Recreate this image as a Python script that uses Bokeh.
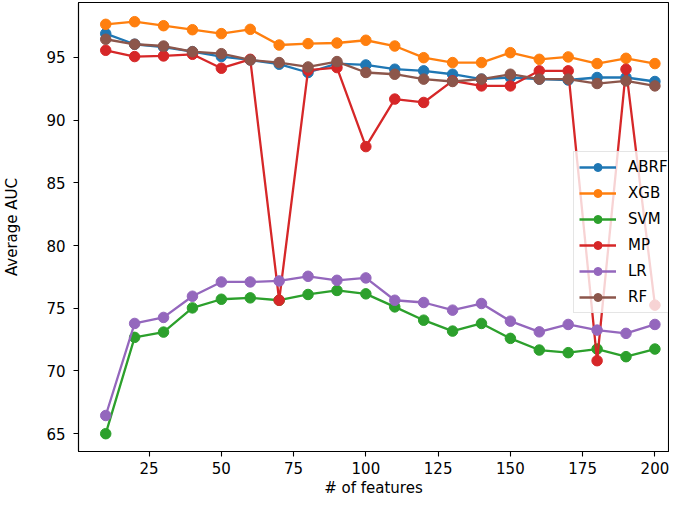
from bokeh.plotting import figure
from bokeh.models import FixedTicker, Range1d, Legend
from bokeh.embed import file_html
from bokeh.resources import INLINE

features = [10, 20, 30, 40, 50, 60, 70, 80, 90, 100,
            110, 120, 130, 140, 150, 160, 170, 180, 190, 200]

abrf = [96.9, 96.05, 95.83, 95.46, 95.07, 94.8, 94.46, 93.8, 94.51, 94.4,
        94.06, 93.93, 93.66, 93.27, 93.4, 93.27, 93.2, 93.4, 93.4, 93.08]
xgb = [97.64, 97.85, 97.53, 97.21, 96.9, 97.24, 95.99, 96.1, 96.15, 96.37,
       95.91, 94.98, 94.59, 94.59, 95.38, 94.85, 95.04, 94.51, 94.93, 94.51]
svm = [65.0, 72.68, 73.1, 75.03, 75.72, 75.83, 75.64, 76.1, 76.42, 76.15,
       75.11, 74.05, 73.18, 73.79, 72.6, 71.67, 71.46, 71.75, 71.14, 71.75]
mp = [95.57, 95.07, 95.12, 95.25, 94.14, 94.85, 75.64, 93.98, 94.19, 87.89,
      91.68, 91.41, 93.13, 92.73, 92.73, 93.93, 93.93, 70.82, 94.06, 75.25]
lr = [66.45, 73.79, 74.27, 75.96, 77.1, 77.1, 77.18, 77.55, 77.23, 77.42,
      75.64, 75.46, 74.85, 75.38, 73.97, 73.12, 73.71, 73.26, 73.0, 73.71]
rf = [96.45, 96.05, 95.91, 95.46, 95.3, 94.8, 94.59, 94.24, 94.67, 93.8,
      93.66, 93.27, 93.08, 93.27, 93.66, 93.27, 93.27, 92.92, 93.13, 92.73]

series_names = ["ABRF", "XGB", "SVM", "MP", "LR", "RF"]
series_values = [abrf, xgb, svm, mp, lr, rf]
series_colors = ["#1f77b4", "#ff7f0e", "#2ca02c", "#d62728", "#9467bd", "#8c564b"]

x_ticks = [25, 50, 75, 100, 125, 150, 175, 200]
y_ticks = [65, 70, 75, 80, 85, 90, 95]

FONT = "DejaVu Sans"

p = figure(width=669, height=499, output_backend="svg", toolbar_location=None,
           x_range=Range1d(0.58, 204.7), y_range=Range1d(63.58, 99.38),
           min_border_left=72, min_border_right=1, min_border_top=2,
           min_border_bottom=47)

p.outline_line_color = "#000000"
p.outline_line_width = 1.1
p.grid.visible = False
p.background_fill_color = "white"
p.border_fill_color = "white"

p.xaxis.ticker = FixedTicker(ticks=x_ticks)
p.yaxis.ticker = FixedTicker(ticks=y_ticks)
for ax in (p.xaxis, p.yaxis):
    ax.minor_tick_line_color = None
    ax.major_tick_in = 0
    ax.major_tick_out = 5
    ax.major_tick_line_width = 1.1
    ax.axis_line_width = 1.1
    ax.major_label_text_font = FONT
    ax.major_label_text_font_size = "15px"
    ax.major_label_text_color = "#000000"
    ax.axis_label_text_font = FONT
    ax.axis_label_text_font_size = "15px"
    ax.axis_label_text_font_style = "normal"
    ax.axis_label_text_color = "#000000"

p.xaxis.axis_label = "# of features"
p.yaxis.axis_label = "Average AUC"
p.xaxis.major_label_standoff = 5
p.xaxis.axis_label_standoff = 2
p.yaxis.major_label_standoff = 8
p.yaxis.axis_label_standoff = 22

items = []
for name, vals, col in zip(series_names, series_values, series_colors):
    l = p.line(features, vals, line_color=col, line_width=2.3)
    s = p.scatter(features, vals, marker="circle", size=10.5,
                  fill_color=col, line_color=col)
    items.append((name, [l, s]))

legend = Legend(items=items, location=(495, 138))
legend.label_text_font = FONT
legend.label_text_font_size = "15px"
legend.label_text_color = "#000000"
legend.glyph_width = 37
legend.glyph_height = 20
legend.label_height = 20
legend.label_standoff = 12
legend.spacing = 6
legend.padding = 5
legend.margin = 0
legend.border_line_color = "#cccccc"
legend.border_line_width = 1
legend.background_fill_color = "white"
legend.background_fill_alpha = 0.8
p.add_layout(legend, "center")

open("out.html", "w").write(file_html(p, INLINE))
